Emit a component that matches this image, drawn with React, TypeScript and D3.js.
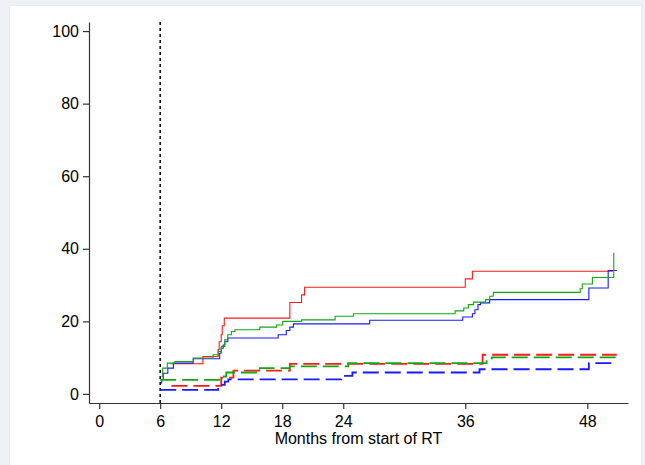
import React, { useEffect, useRef } from "react";
import * as d3 from "d3";

const width = 645;
const height = 465;
const margin = { top: 22, right: 17, bottom: 62, left: 89 };

// months since start of RT (x) and cumulative incidence % (y), step functions
const redSolidMonths = [7.0, 10.2, 11.7, 11.8, 12.0, 12.1, 12.3, 18.75, 19.9, 20.2, 36.0, 36.7, 50.5];
const redSolidValues = [8.3, 10.3, 12.2, 14.4, 16.3, 18.8, 20.9, 25.2, 27.3, 29.4, 31.7, 33.8, 33.8];

const greenSolidMonths = [6.15, 6.25, 6.7, 7.45, 9.25, 11.2, 11.7, 12.0, 12.35, 12.65, 13.0, 13.35, 15.8, 17.45, 18.05, 19.9, 23.2, 25.0, 35.0, 35.85, 36.3, 36.8, 38.0, 38.4, 38.75, 47.3, 47.5, 48.5, 50.6];
const greenSolidValues = [4.8, 7.1, 8.5, 8.9, 9.9, 10.8, 11.7, 13.1, 14.9, 16.3, 17.2, 17.7, 18.4, 19.0, 20.0, 20.4, 21.4, 22.1, 22.9, 23.7, 24.6, 25.3, 26.0, 26.9, 28.0, 29.0, 30.3, 32.1, 38.9];

const blueSolidMonths = [6.05, 6.15, 6.3, 6.75, 7.3, 9.25, 11.85, 12.0, 12.2, 12.35, 12.65, 17.6, 18.4, 18.75, 19.1, 26.6, 35.75, 36.7, 36.95, 37.25, 37.5, 38.4, 48.15, 50.05, 50.9];
const blueSolidValues = [3.0, 3.9, 5.7, 7.1, 8.5, 9.7, 11.2, 12.6, 13.5, 14.4, 15.4, 16.3, 17.5, 18.4, 19.3, 20.3, 21.2, 22.1, 23.2, 24.6, 25.1, 26.0, 29.2, 34.0, 34.0];

const redDashMonths = [7.1, 12.0, 13.2, 18.75, 37.7, 50.9];
const redDashValues = [2.2, 4.5, 6.4, 8.3, 10.8, 10.8];

const greenDashMonths = [6.0, 12.0, 12.5, 15.8, 18.75, 24.5, 38.1, 38.6, 50.9];
const greenDashValues = [3.9, 4.8, 5.9, 7.1, 7.6, 8.5, 9.4, 10.1, 10.1];

const blueDashMonths = [6.0, 11.7, 12.35, 12.7, 23.8, 24.9, 37.4, 48.15, 50.9];
const blueDashValues = [1.1, 2.5, 3.4, 4.0, 5.0, 5.9, 6.8, 8.5, 8.5];

const xTicks = [0, 6, 12, 18, 24, 36, 48];
const yTicks = [0, 20, 40, 60, 80, 100];
const rtEndMonth = 6;

const series = [
  { months: redSolidMonths, values: redSolidValues, color: "#ff1a1a", dash: null },
  { months: blueSolidMonths, values: blueSolidValues, color: "#1a1aff", dash: null },
  { months: greenSolidMonths, values: greenSolidValues, color: "#12a812", dash: null },
  { months: redDashMonths, values: redDashValues, color: "#ff1a1a", dash: "16,6" },
  { months: greenDashMonths, values: greenDashValues, color: "#12a812", dash: "16,6" },
  { months: blueDashMonths, values: blueDashValues, color: "#1a1aff", dash: "16,6" },
];

const font = "Liberation Sans, Arial, sans-serif";

const xScale = d3.scaleLinear().domain([-1, 52]).range([margin.left, width - margin.right]);
const yScale = d3.scaleLinear().domain([-2.5, 102.5]).range([height - margin.bottom, margin.top]);

const stepLine = d3
  .line<[number, number]>()
  .x(d => xScale(d[0]))
  .y(d => yScale(d[1]))
  .curve(d3.curveStepAfter);

export default function App() {
  const xAxisRef = useRef<SVGGElement>(null);
  const yAxisRef = useRef<SVGGElement>(null);

  useEffect(() => {
    const xAxis = d3.axisBottom(xScale).tickValues(xTicks).tickSize(6).tickSizeOuter(0).tickPadding(7);
    const yAxis = d3.axisLeft(yScale).tickValues(yTicks).tickSize(6).tickSizeOuter(0).tickPadding(4);
    const gx = d3.select(xAxisRef.current!).call(xAxis);
    const gy = d3.select(yAxisRef.current!).call(yAxis);
    [gx, gy].forEach(g => {
      g.selectAll("path, line").attr("stroke", "#333").attr("stroke-width", 1.2);
      g.selectAll("text")
        .attr("fill", "#000")
        .style("font-family", font)
        .style("font-size", "16px");
    });
  }, []);

  return (
    <svg
      width={width}
      height={height}
      style={{ position: "absolute", left: 0, top: 0 }}
    >
      <rect x={0} y={0} width={width} height={height} fill="#eef2f6" />
      <rect x={9.5} y={5.5} width={632} height={470} fill="#fff" stroke="#e6ebf0" />
      <line
        x1={xScale(rtEndMonth)}
        x2={xScale(rtEndMonth)}
        y1={margin.top}
        y2={height - margin.bottom}
        stroke="#000"
        strokeWidth={1.5}
        strokeDasharray="3,3"
      />
      {series.map((s, i) => (
        <path
          key={i}
          d={stepLine(s.months.map((m, j) => [m, s.values[j]] as [number, number])) || ""}
          fill="none"
          stroke={s.color}
          strokeWidth={s.dash ? 1.8 : 1.1}
          strokeDasharray={s.dash || undefined}
        />
      ))}
      <g ref={xAxisRef} transform={`translate(0, ${height - margin.bottom})`} />
      <g ref={yAxisRef} transform={`translate(${margin.left}, 0)`} />
      <text
        x={(margin.left + width - margin.right) / 2}
        y={444}
        textAnchor="middle"
        fontFamily={font}
        fontSize={16}
      >
        Months from start of RT
      </text>
    </svg>
  );
}
